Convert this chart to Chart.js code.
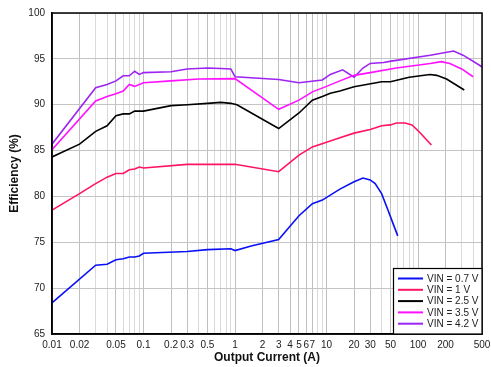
<!DOCTYPE html>
<html>
<head>
<meta charset="utf-8">
<script src="https://cdn.jsdelivr.net/npm/chart.js@4.4.1/dist/chart.umd.min.js"></script>
<style>
  html, body { margin: 0; padding: 0; background: #fff; }
  #wrap { width: 491px; height: 367px; position: relative; }
</style>
</head>
<body>
<div id="wrap"><canvas id="c"></canvas></div>
<script>
// Output current (A) and efficiency (%) for each input voltage
const vin07Current = [0.01, 0.03, 0.04, 0.05, 0.06, 0.07, 0.08, 0.09, 0.1, 0.3, 0.5, 0.9, 1, 1.5, 3, 5, 7, 9, 14, 20, 25, 30, 34, 40, 47, 54, 60];
const vin07Eff     = [68.4, 72.5, 72.6, 73.1, 73.2, 73.4, 73.4, 73.5, 73.8, 74.0, 74.2, 74.3, 74.1, 74.6, 75.3, 77.9, 79.2, 79.6, 80.8, 81.6, 82.0, 81.8, 81.4, 80.3, 78.5, 76.9, 75.7];

const vin1Current  = [0.01, 0.02, 0.03, 0.04, 0.05, 0.06, 0.07, 0.08, 0.09, 0.1, 0.3, 0.5, 1, 3, 5, 7, 10, 14, 20, 30, 40, 50, 58, 72, 86, 104, 140];
const vin1Eff      = [78.5, 80.3, 81.4, 82.1, 82.5, 82.5, 82.9, 83.0, 83.2, 83.1, 83.5, 83.5, 83.5, 82.7, 84.5, 85.4, 85.9, 86.4, 86.9, 87.3, 87.7, 87.8, 88.0, 88.0, 87.8, 87.0, 85.6];

const vin25Current = [0.01, 0.02, 0.03, 0.04, 0.05, 0.06, 0.07, 0.08, 0.1, 0.2, 0.3, 0.5, 0.7, 0.9, 1.05, 3, 5, 7, 9, 11, 14, 20, 40, 50, 80, 135, 160, 205, 320];
const vin25Eff     = [84.3, 85.7, 87.1, 87.7, 88.8, 89.0, 89.0, 89.3, 89.3, 89.9, 90.0, 90.15, 90.25, 90.15, 90.0, 87.4, 89.1, 90.5, 90.9, 91.25, 91.5, 91.95, 92.5, 92.5, 93.0, 93.3, 93.2, 92.8, 91.6];

const vin35Current = [0.01, 0.03, 0.04, 0.05, 0.06, 0.07, 0.08, 0.1, 0.2, 0.4, 1, 3, 5, 7, 10, 14, 20, 30, 58, 136, 180, 222, 300, 400];
const vin35Eff     = [85.1, 90.4, 90.9, 91.2, 91.5, 92.2, 92.0, 92.4, 92.6, 92.8, 92.85, 89.5, 90.5, 91.4, 92.0, 92.6, 93.2, 93.5, 94.0, 94.5, 94.7, 94.5, 93.9, 93.05];

const vin42Current = [0.01, 0.03, 0.04, 0.05, 0.06, 0.07, 0.08, 0.09, 0.1, 0.2, 0.3, 0.5, 0.7, 0.9, 1, 3, 5, 9, 11, 15, 20, 25, 30, 42, 51, 136, 245, 310, 470, 500];
const vin42Eff     = [85.7, 91.85, 92.2, 92.6, 93.15, 93.15, 93.65, 93.3, 93.5, 93.6, 93.9, 94.0, 93.95, 93.9, 93.05, 92.75, 92.4, 92.7, 93.3, 93.8, 93.0, 94.0, 94.5, 94.6, 94.75, 95.4, 95.85, 95.4, 94.3, 94.1];

const seriesLabels = ['VIN = 0.7 V', 'VIN = 1 V', 'VIN = 2.5 V', 'VIN = 3.5 V', 'VIN = 4.2 V'];
const seriesColors = ['#0a10f5', '#ff1460', '#000000', '#ff10ff', '#9d24f2'];

// X axis tick labels and Y axis tick values
const xTickLabels = ['0.01', '0.02', '0.05', '0.1', '0.2', '0.3', '0.5', '1', '2', '3', '4', '5', '6', '7', '10', '20', '30', '50', '100', '200', '500'];
const yTicks = [65, 70, 75, 80, 85, 90, 95, 100];

// log grid: 1..9 in each decade from 0.01 up to 500
const xGridValues = [];
for (let e = -2; e <= 2; e++) {
  for (let m = 1; m <= 9; m++) {
    const v = Number((m * Math.pow(10, e)).toPrecision(1));
    if (v <= 500) xGridValues.push(v);
  }
}

const pairs = (xs, ys) => xs.map((x, i) => ({ x: x, y: ys[i] }));
const allSeries = [
  pairs(vin07Current, vin07Eff),
  pairs(vin1Current, vin1Eff),
  pairs(vin25Current, vin25Eff),
  pairs(vin35Current, vin35Eff),
  pairs(vin42Current, vin42Eff)
];

const FONT = '"Liberation Sans", Arial, sans-serif';

// frame around the plot plus the boxed legend in the lower right corner
const framePlugin = {
  id: 'frameAndLegend',
  afterDraw(chart) {
    const { ctx, chartArea: a } = chart;
    ctx.save();
    ctx.strokeStyle = '#000';
    ctx.lineWidth = 1.5;
    ctx.strokeRect(a.left, a.top, a.right - a.left, a.bottom - a.top);

    const w = 89, h = 66;
    const bx = a.right - w, by = a.bottom - h;
    ctx.fillStyle = '#fff';
    ctx.fillRect(bx, by, w, h);
    ctx.lineWidth = 1.2;
    ctx.strokeRect(bx + 0.5, by + 0.5, w - 0.5, h - 0.5);

    ctx.font = '10px ' + FONT;
    ctx.textBaseline = 'middle';
    ctx.textAlign = 'left';
    chart.data.datasets.forEach((ds, i) => {
      const y = by + 10.5 + i * 11.3;
      ctx.strokeStyle = ds.borderColor;
      ctx.lineWidth = 2;
      ctx.beginPath();
      ctx.moveTo(bx + 5, y);
      ctx.lineTo(bx + 30, y);
      ctx.stroke();
      ctx.fillStyle = '#222';
      ctx.fillText(ds.label, bx + 34, y + 0.5);
    });
    ctx.restore();
  }
};

new Chart(document.getElementById('c'), {
  type: 'line',
  data: {
    datasets: allSeries.map((d, i) => ({
      label: seriesLabels[i],
      data: d,
      borderColor: seriesColors[i],
      backgroundColor: seriesColors[i],
      borderWidth: 1.6,
      pointRadius: 0,
      tension: 0,
      fill: false
    }))
  },
  options: {
    responsive: true,
    maintainAspectRatio: false,
    animation: false,
    events: [],
    layout: { padding: { top: 13, right: 9, left: 0, bottom: 0 } },
    plugins: { legend: { display: false }, tooltip: { enabled: false } },
    scales: {
      x: {
        type: 'logarithmic',
        min: 0.01,
        max: 500,
        afterBuildTicks: (scale) => { scale.ticks = xGridValues.map(v => ({ value: v })); },
        afterFit: (scale) => { scale.height = 33; scale.paddingLeft = 0; scale.paddingRight = 0; },
        ticks: {
          autoSkip: false,
          maxRotation: 0,
          minRotation: 0,
          padding: 5,
          color: '#222',
          font: { family: FONT, size: 10 },
          callback: (v) => xTickLabels.includes(String(v)) ? String(v) : ''
        },
        grid: {
          drawTicks: false,
          lineWidth: 1,
          color: (c) => (c.tick && xTickLabels.includes(String(c.tick.value))) ? '#bfbfbf' : '#dadada'
        },
        border: { display: true, color: '#000', width: 1.5 },
        title: {
          display: true,
          text: 'Output Current (A)',
          color: '#111',
          font: { family: FONT, size: 12, weight: 'bold' },
          padding: { top: 0, bottom: 2 }
        }
      },
      y: {
        type: 'linear',
        min: 65,
        max: 100,
        afterBuildTicks: (scale) => { scale.ticks = yTicks.map(v => ({ value: v })); },
        afterFit: (scale) => { scale.width = 52; scale.paddingTop = 0; scale.paddingBottom = 0; },
        ticks: {
          padding: 7,
          color: '#222',
          font: { family: FONT, size: 10 }
        },
        grid: { drawTicks: false, color: '#c4c4c4', lineWidth: 1 },
        border: { display: true, color: '#000', width: 1.5 },
        title: {
          display: true,
          text: 'Efficiency (%)',
          color: '#111',
          font: { family: FONT, size: 12, weight: 'bold' },
          padding: { top: 7, bottom: 0 }
        }
      }
    }
  },
  plugins: [framePlugin]
});
</script>
</body>
</html>
